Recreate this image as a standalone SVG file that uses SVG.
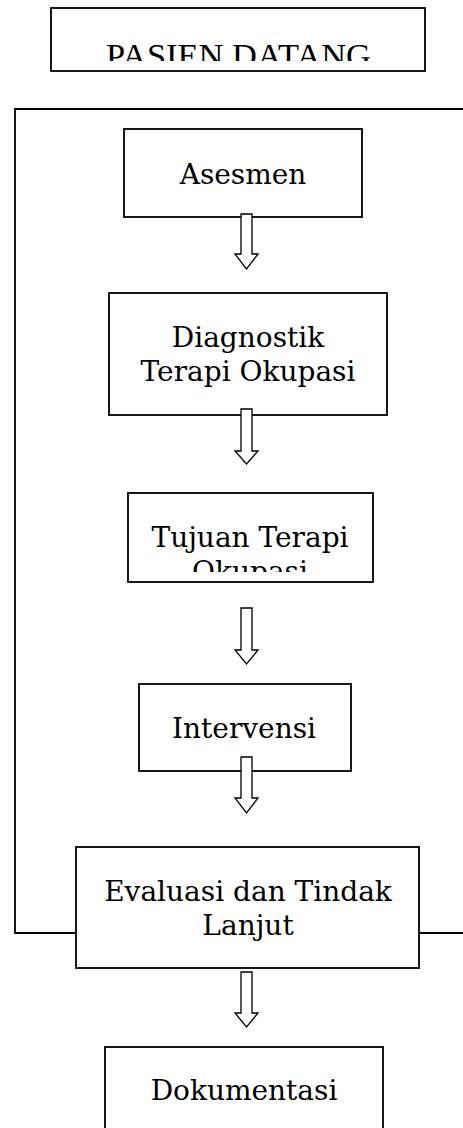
<svg xmlns="http://www.w3.org/2000/svg" width="463" height="1128" viewBox="0 0 463 1128">
<style>
.box{fill:#fff;stroke:#000;stroke-width:1.8}
.lbl{font-family:"DejaVu Serif","Liberation Serif",serif;font-size:28px;fill:#000;text-anchor:middle}
.arr{fill:#fff;stroke:#000;stroke-width:1.3;stroke-linejoin:miter}
.loop{fill:none;stroke:#000;stroke-width:1.8}
</style>
<defs>
<clipPath id="clipPasien"><rect x="52" y="9" width="372" height="52"/></clipPath>
<clipPath id="clipTujuan"><rect x="129" y="494" width="243" height="78"/></clipPath>
</defs>
<rect width="463" height="1128" fill="#fff"/>
<g id="connectors">
<polyline class="loop" points="463,109 15,109 15,933 76,933"/>
<line class="loop" x1="419" y1="933" x2="463" y2="933"/>
</g>
<g id="node-pasien">
<rect class="box" x="51" y="8" width="374" height="63"/>
<text class="lbl" x="238.5" y="67" textLength="265" lengthAdjust="spacingAndGlyphs" clip-path="url(#clipPasien)" style="font-family:'Liberation Serif',serif;font-size:33px">PASIEN DATANG</text>
</g>
<g id="node-asesmen">
<rect class="box" x="124" y="129" width="238" height="88"/>
<text class="lbl" x="243" y="184">Asesmen</text>
</g>
<g id="node-diagnostik">
<rect class="box" x="109" y="293" width="278" height="122"/>
<text class="lbl" x="248" y="347">Diagnostik</text>
<text class="lbl" x="248" y="381">Terapi Okupasi</text>
</g>
<g id="node-tujuan">
<rect class="box" x="128" y="493" width="245" height="89"/>
<text class="lbl" x="250" y="547">Tujuan Terapi</text>
<text class="lbl" x="250" y="581" clip-path="url(#clipTujuan)">Okupasi</text>
</g>
<g id="node-intervensi">
<rect class="box" x="139" y="684" width="212" height="87"/>
<text class="lbl" x="244" y="738">Intervensi</text>
</g>
<g id="node-evaluasi">
<rect class="box" x="76" y="847" width="343" height="121"/>
<text class="lbl" x="248" y="901">Evaluasi dan Tindak</text>
<text class="lbl" x="248" y="935">Lanjut</text>
</g>
<g id="node-dokumentasi">
<rect class="box" x="105" y="1047" width="278" height="100"/>
<text class="lbl" x="244" y="1100">Dokumentasi</text>
</g>
<g id="arrows">
<polygon class="arr" points="241,214 252,214 252,254 258,254 246.5,269 235,254 241,254"/>
<polygon class="arr" points="241,409 252,409 252,451 258,451 246.5,464 235,451 241,451"/>
<polygon class="arr" points="241,608 252,608 252,650 258,650 246.5,664 235,650 241,650"/>
<polygon class="arr" points="241,757 252,757 252,798 258,798 246.5,813 235,798 241,798"/>
<polygon class="arr" points="241,972 252,972 252,1013 258,1013 246.5,1027 235,1013 241,1013"/>
</g>
</svg>
